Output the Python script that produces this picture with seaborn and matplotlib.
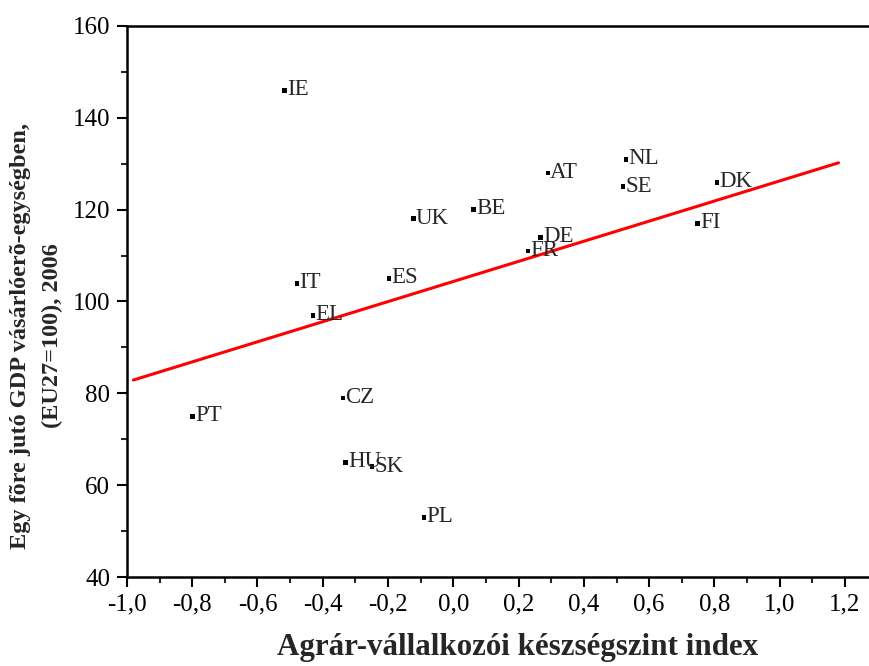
import numpy as np
import pandas as pd
import matplotlib
matplotlib.use('Agg')
import matplotlib.pyplot as plt
from matplotlib.ticker import MultipleLocator, FuncFormatter
import seaborn as sns

# ─── Data ─────────────────────────────────────────────────────────────────────

countries = ['IE', 'UK', 'BE', 'IT', 'ES', 'EL', 'AT', 'NL', 'SE', 'DK',
             'FI', 'DE', 'FR', 'PT', 'CZ', 'HU', 'SK', 'PL']
skill_index = [-0.516, -0.121, 0.063, -0.479, -0.197, -0.430, 0.290, 0.529,
               0.520, 0.808, 0.749, 0.268, 0.229, -0.798, -0.338, -0.329,
               -0.249, -0.090]
gdp_pps = [146, 118, 120, 104, 105, 97, 128, 131, 125, 126,
           117, 114, 111, 75, 79, 65, 64, 53]

trend_x = [-0.98, 1.18]
trend_y = [82.9, 130.2]

df = pd.DataFrame({'country': countries, 'x': skill_index, 'y': gdp_pps})
trend = pd.DataFrame({'x': trend_x, 'y': trend_y})

# ─── Style ────────────────────────────────────────────────────────────────────

sns.set_style('ticks')
plt.rcParams['font.family'] = ['Liberation Serif', 'DejaVu Serif']

fig = plt.figure(figsize=(8.69, 6.66), dpi=100)
ax = fig.add_axes([0.146, 0.1336, 0.854, 0.8274])

sns.lineplot(data=trend, x='x', y='y', color='red', linewidth=2.2, ax=ax)
sns.scatterplot(data=df, x='x', y='y', marker='s', s=12, color='black',
                edgecolor='none', ax=ax, zorder=3)

for _, r in df.iterrows():
    ax.annotate(r['country'], (r['x'], r['y']), xytext=(1.5, 0.5),
                textcoords='offset points', ha='left', va='center',
                fontsize=16.5)

ax.set_xlim(-1.0, 1.2735)
ax.set_ylim(40, 160)
ax.xaxis.set_major_locator(MultipleLocator(0.2))
ax.xaxis.set_minor_locator(MultipleLocator(0.1))
ax.yaxis.set_major_locator(MultipleLocator(20))
ax.yaxis.set_minor_locator(MultipleLocator(10))
ax.xaxis.set_major_formatter(FuncFormatter(lambda v, p: f'{v:.1f}'.replace('.', ',')))
ax.yaxis.set_major_formatter(FuncFormatter(lambda v, p: f'{v:.0f}'))

ax.tick_params(which='major', direction='out', length=7, width=1.5,
               labelsize=18, pad=5, colors='black')
ax.tick_params(which='minor', direction='out', length=4, width=1.5)
for side in ['left', 'bottom', 'top']:
    ax.spines[side].set_linewidth(1.8)
    ax.spines[side].set_color('black')
ax.spines['right'].set_visible(False)

ax.set_xlabel('')
ax.set_ylabel('')

fig.text(518 / 869, 1 - 648 / 666, 'Agrár-vállalkozói készségszint index',
         ha='center', va='center', fontsize=22.3, fontweight='bold')
fig.text(21 / 869, 1 - 336 / 666, 'Egy fõre jutó GDP vásárlóerõ-egységben,',
         ha='center', va='center', rotation=90, fontsize=17.5, fontweight='bold')
fig.text(52 / 869, 1 - 336 / 666, '(EU27=100), 2006',
         ha='center', va='center', rotation=90, fontsize=17.5, fontweight='bold')

fig.savefig('out.png', dpi=100)
plt.close(fig)
